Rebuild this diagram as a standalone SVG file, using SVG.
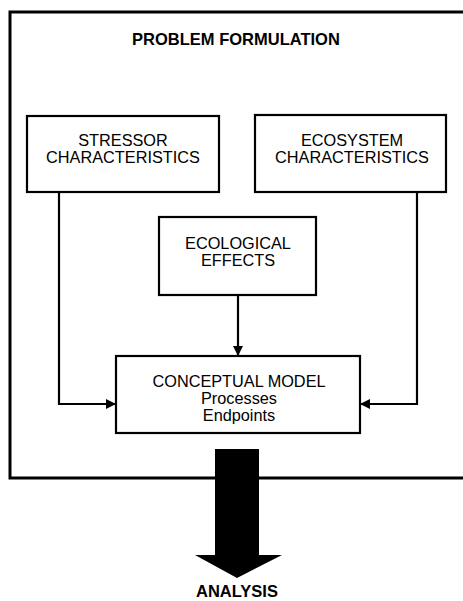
<svg xmlns="http://www.w3.org/2000/svg" width="463" height="601" viewBox="0 0 463 601">
<style>
.box{fill:#fff;stroke:#000;stroke-width:2.2}
.t{font-family:"Liberation Sans",Arial,sans-serif;font-size:16.3px;text-anchor:middle;fill:#000}
.b{font-family:"Liberation Sans",Arial,sans-serif;font-size:16.5px;font-weight:bold;text-anchor:middle;fill:#000}
.c{fill:none;stroke:#000;stroke-width:2.2}
</style>
<defs>
<marker id="ah" markerWidth="10" markerHeight="10" refX="9" refY="5" orient="auto" markerUnits="userSpaceOnUse">
<path d="M0,0 L10,5 L0,10 Z" fill="#000"/>
</marker>
</defs>
<rect width="463" height="601" fill="#fff"/>
<g id="frame">
<path d="M470,12 L10,12 L10,478 L470,478" fill="none" stroke="#000" stroke-width="3"/>
<text class="b" x="236" y="45">PROBLEM FORMULATION</text>
</g>
<g id="stressor">
<rect class="box" x="27" y="116" width="192" height="76"/>
<text class="t" x="123" y="146">STRESSOR</text>
<text class="t" x="123" y="163">CHARACTERISTICS</text>
</g>
<g id="ecosystem">
<rect class="box" x="255" y="115" width="191" height="77"/>
<text class="t" x="352" y="146">ECOSYSTEM</text>
<text class="t" x="352" y="163">CHARACTERISTICS</text>
</g>
<g id="effects">
<rect class="box" x="159" y="217" width="157" height="78"/>
<text class="t" x="238" y="249">ECOLOGICAL</text>
<text class="t" x="238" y="266">EFFECTS</text>
</g>
<g id="conceptual">
<rect class="box" x="116" y="356" width="244" height="77"/>
<text class="t" x="239" y="387">CONCEPTUAL MODEL</text>
<text class="t" x="239" y="404">Processes</text>
<text class="t" x="239" y="421">Endpoints</text>
</g>
<g id="connectors">
<path class="c" d="M59,192 L59,404 L115,404" marker-end="url(#ah)"/>
<path class="c" d="M417,192 L417,404 L361,404" marker-end="url(#ah)"/>
<path class="c" d="M238,295 L238,355" marker-end="url(#ah)"/>
<path d="M215,449 L259,449 L259,555 L282,555 L237,578 L195,555 L215,555 Z" fill="#000"/>
</g>
<g id="analysis">
<text class="b" x="237" y="597">ANALYSIS</text>
</g>
</svg>
